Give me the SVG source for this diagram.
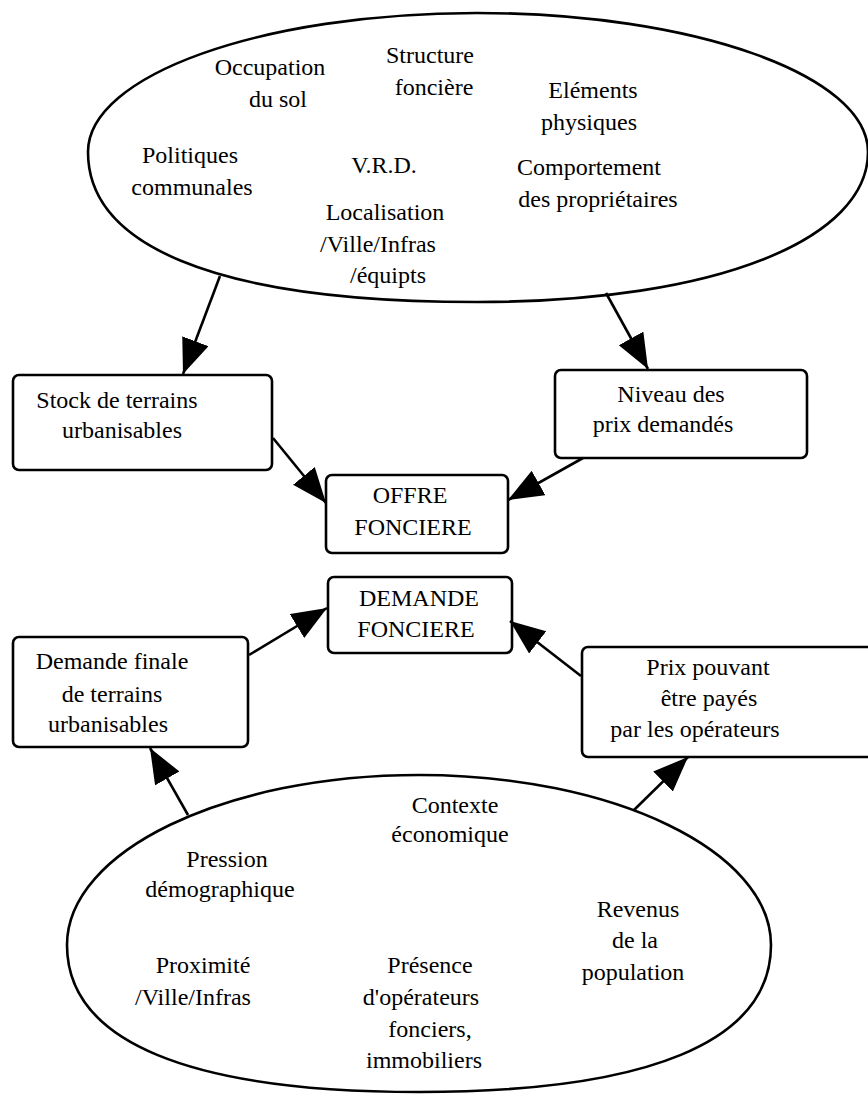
<svg xmlns="http://www.w3.org/2000/svg" width="868" height="1096" viewBox="0 0 868 1096">
<defs>
<style>
.shape{fill:none;stroke:#000;stroke-width:2.6}
.box{fill:#fff;stroke:#000;stroke-width:2.6}
.t{font-family:"Liberation Serif","Times New Roman",serif;font-size:24px;fill:#000;text-anchor:middle}
.c{fill:none;stroke:#000;stroke-width:2.6;marker-end:url(#ah)}
</style>
<marker id="ah" markerUnits="userSpaceOnUse" markerWidth="38" markerHeight="30" refX="35" refY="14" orient="auto">
<path d="M0,0 L35,14 L0,28 Z" fill="#000"/>
</marker>
</defs>
<rect width="868" height="1096" fill="#fff"/>

<g id="facteurs-offre">
<path class="shape" d="M88,152 C88,75 262,13 477,13 C693,13 868,75 868,152 C868,238 720,302 477,302 C206,302 88,242 88,152 Z"/>
<text class="t" x="270" y="75">Occupation</text>
<text class="t" x="278" y="107">du sol</text>
<text class="t" x="430" y="63">Structure</text>
<text class="t" x="434" y="95">foncière</text>
<text class="t" x="593" y="98">Eléments</text>
<text class="t" x="589" y="130">physiques</text>
<text class="t" x="190" y="163">Politiques</text>
<text class="t" x="192" y="195">communales</text>
<text class="t" x="384" y="173">V.R.D.</text>
<text class="t" x="589" y="175">Comportement</text>
<text class="t" x="598" y="207">des propriétaires</text>
<text class="t" x="385" y="220">Localisation</text>
<text class="t" x="378" y="252">/Ville/Infras</text>
<text class="t" x="388" y="283">/équipts</text>
</g>

<g id="stock">
<rect class="box" x="13" y="375" width="259" height="95" rx="6"/>
<text class="t" x="117" y="408">Stock de terrains</text>
<text class="t" x="122" y="438">urbanisables</text>
</g>

<g id="niveau-prix">
<rect class="box" x="555" y="370" width="252" height="88" rx="6"/>
<text class="t" x="671" y="402">Niveau des</text>
<text class="t" x="663" y="432">prix demandés</text>
</g>

<g id="offre">
<rect class="box" x="326" y="475" width="182" height="78" rx="6"/>
<text class="t" x="410" y="503">OFFRE</text>
<text class="t" x="413" y="535">FONCIERE</text>
</g>

<g id="demande">
<rect class="box" x="328" y="577" width="184" height="76" rx="6"/>
<text class="t" x="419" y="606">DEMANDE</text>
<text class="t" x="416" y="637">FONCIERE</text>
</g>

<g id="demande-finale">
<rect class="box" x="13" y="637" width="235" height="110" rx="6"/>
<text class="t" x="112" y="669">Demande finale</text>
<text class="t" x="112" y="702">de terrains</text>
<text class="t" x="108" y="732">urbanisables</text>
</g>

<g id="prix-pouvant">
<rect class="box" x="582" y="647" width="300" height="110" rx="6"/>
<text class="t" x="708" y="675">Prix pouvant</text>
<text class="t" x="709" y="706">être payés</text>
<text class="t" x="695" y="737">par les opérateurs</text>
</g>

<g id="facteurs-demande">
<path class="shape" d="M67,945 C67,851 225,775 419,775 C613,775 771,851 771,945 C771,1042 648,1092 419,1092 C190,1092 67,1042 67,945 Z"/>
<text class="t" x="455" y="813">Contexte</text>
<text class="t" x="450" y="842">économique</text>
<text class="t" x="227" y="867">Pression</text>
<text class="t" x="220" y="897">démographique</text>
<text class="t" x="638" y="917">Revenus</text>
<text class="t" x="635" y="948">de la</text>
<text class="t" x="633" y="980">population</text>
<text class="t" x="203" y="973">Proximité</text>
<text class="t" x="193" y="1005">/Ville/Infras</text>
<text class="t" x="430" y="973">Présence</text>
<text class="t" x="421" y="1005">d'opérateurs</text>
<text class="t" x="430" y="1037">fonciers,</text>
<text class="t" x="424" y="1068">immobiliers</text>
</g>

<g id="connecteurs">
<path class="c" d="M220,276 L183,374"/>
<path class="c" d="M606,293 L648,369"/>
<path class="c" d="M273,438 L326,503"/>
<path class="c" d="M583,458 L508,500"/>
<path class="c" d="M249,655 L327,608"/>
<path class="c" d="M581,676 L510,621"/>
<path class="c" d="M188,815 L150,748"/>
<path class="c" d="M634,810 L688,757"/>
</g>
</svg>
